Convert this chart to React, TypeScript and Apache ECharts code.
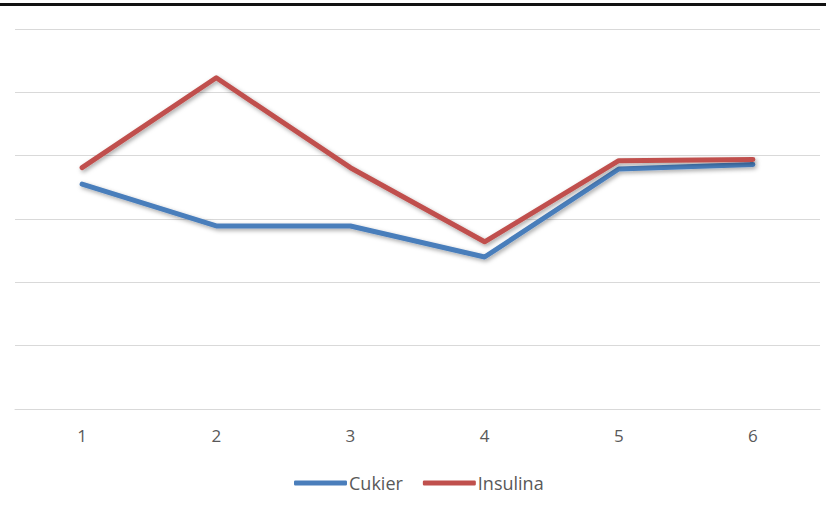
import React, { useEffect, useRef } from "react";
import * as echarts from "echarts";

const categories = ["1", "2", "3", "4", "5", "6"];
const cukier = [3.55, 2.89, 2.89, 2.4, 3.79, 3.86];
const insulina = [3.81, 5.23, 3.81, 2.64, 3.92, 3.94];

export default function App() {
  const ref = useRef<HTMLDivElement>(null);
  useEffect(() => {
    const chart = echarts.init(ref.current!, undefined, { renderer: "svg" });
    const lineBase = {
      type: "line",
      symbol: "none",
      showSymbol: false,
    };
    const shadow = {
      shadowColor: "rgba(0,0,0,0.35)",
      shadowBlur: 4,
      shadowOffsetX: 1.5,
      shadowOffsetY: 2,
    };
    chart.setOption({
      animation: false,
      backgroundColor: "#ffffff",
      graphic: [
        {
          type: "rect",
          shape: { x: 0, y: 3, width: 826, height: 3 },
          style: { fill: "#111111" },
        },
      ],
      grid: { left: 15, right: 6, top: 29, bottom: 106 },
      xAxis: {
        type: "category",
        data: categories,
        boundaryGap: true,
        axisLine: { show: true, lineStyle: { color: "#d9d9d9", width: 1 } },
        axisTick: { show: false },
        axisLabel: {
          color: "#595959",
          fontSize: 17,
          fontFamily: "Open Sans",
          margin: 18,
        },
      },
      yAxis: {
        type: "value",
        min: 0,
        max: 6,
        interval: 1,
        axisLabel: { show: false },
        axisLine: { show: false },
        axisTick: { show: false },
        splitLine: { lineStyle: { color: "#d9d9d9", width: 1 } },
      },
      legend: {
        top: 473,
        left: 294,
        padding: 0,
        itemWidth: 53,
        itemHeight: 5,
        itemGap: 20,
        icon: "roundRect",
        textStyle: {
          color: "#595959",
          fontSize: 18,
          lineHeight: 20,
          fontFamily: "Open Sans",
          padding: [0, 0, 0, -3],
        },
        data: ["Cukier", "Insulina"],
      },
      series: [
        {
          ...lineBase,
          name: "Cukier",
          data: cukier,
          color: "#4a7ebb",
          lineStyle: { color: "#4a7ebb", width: 5, cap: "round", join: "round", ...shadow },
          z: 2,
        },
        {
          ...lineBase,
          name: "Insulina",
          data: insulina,
          color: "#c0504d",
          lineStyle: { color: "#c0504d", width: 5, cap: "round", join: "round", ...shadow },
          z: 3,
        },
      ],
    });
    return () => chart.dispose();
  }, []);
  return (
    <div
      ref={ref}
      style={{ position: "fixed", left: 0, top: 0, width: 826, height: 515 }}
    />
  );
}
